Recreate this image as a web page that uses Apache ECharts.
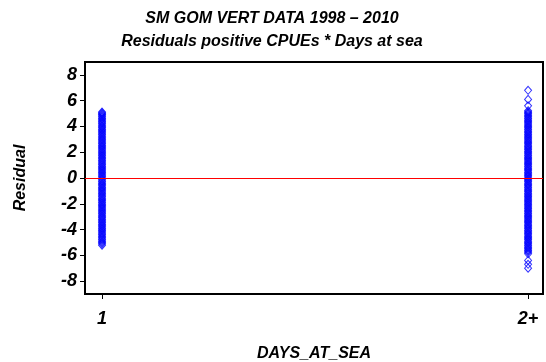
<!DOCTYPE html>
<html>
<head>
<meta charset="utf-8">
<script src="https://cdn.jsdelivr.net/npm/echarts@6/dist/echarts.min.js"></script>
<style>
html, body { margin: 0; padding: 0; background: #fff; }
#main { width: 546px; height: 362px; }
</style>
</head>
<body>
<div id="main"></div>
<script>
// categories on the x axis
var categories = ['1', '2+'];
var yTicks = [-8, -6, -4, -2, 0, 2, 4, 6, 8];

// residuals
var resid1 = [5.12, 5.05, 4.97, 4.9, 4.81, 4.73, 4.62, 4.55, 4.44, 4.36, 4.27, 4.18, 4.07, 3.98, 3.9, 3.79, 3.71, 3.6, 3.52, 3.41,
	3.33, 3.22, 3.13, 3.02, 2.94, 2.85, 2.74, 2.66, 2.55, 2.46, 2.37, 2.26, 2.18, 2.07, 1.98, 1.89, 1.78, 1.7, 1.59, 1.51,
	1.4, 1.31, 1.22, 1.11, 1.03, 0.92, 0.84, 0.73, 0.64, 0.55, 0.44, 0.36, 0.25, 0.16, 0.07, -0.04, -0.12, -0.23, -0.31, -0.42,
	-0.51, -0.6, -0.71, -0.79, -0.9, -0.99, -1.08, -1.19, -1.27, -1.38, -1.46, -1.57, -1.66, -1.75, -1.86, -1.94, -2.05, -2.13,
	-2.24, -2.33, -2.42, -2.53, -2.61, -2.72, -2.8, -2.91, -3.0, -3.09, -3.2, -3.28, -3.39, -3.47, -3.58, -3.67, -3.76, -3.87,
	-3.95, -4.06, -4.14, -4.25, -4.34, -4.43, -4.54, -4.62, -4.73, -4.81, -4.92, -5.01, -5.1, -5.21];
var resid2 = [6.8, 6.1, 5.6, 5.22, 5.13, 5.04, 4.96, 4.85, 4.77, 4.66, 4.58, 4.47, 4.39, 4.28, 4.19, 4.1, 3.99, 3.91, 3.8,
	3.72, 3.61, 3.53, 3.42, 3.34, 3.23, 3.14, 3.05, 2.94, 2.86, 2.75, 2.67, 2.56, 2.47, 2.38, 2.27, 2.19, 2.08, 1.99, 1.9,
	1.79, 1.71, 1.6, 1.52, 1.41, 1.32, 1.23, 1.12, 1.04, 0.93, 0.85, 0.74, 0.65, 0.56, 0.45, 0.37, 0.26, 0.17, 0.08, -0.03,
	-0.11, -0.22, -0.3, -0.41, -0.5, -0.59, -0.7, -0.78, -0.89, -0.98, -1.07, -1.18, -1.26, -1.37, -1.45, -1.56, -1.65, -1.74,
	-1.85, -1.93, -2.04, -2.12, -2.23, -2.32, -2.41, -2.52, -2.6, -2.71, -2.79, -2.9, -2.99, -3.08, -3.19, -3.27, -3.38, -3.46,
	-3.57, -3.66, -3.75, -3.86, -3.94, -4.05, -4.13, -4.24, -4.33, -4.42, -4.53, -4.61, -4.72, -4.8, -4.91, -5.0, -5.09, -5.2,
	-5.28, -5.39, -5.47, -5.58, -5.66, -5.77, -5.88, -6.4, -6.7, -7.0];

var font = 'Liberation Sans, Arial, Helvetica, sans-serif';

function toPoints(xv, arr) {
	var out = [];
	for (var i = 0; i < arr.length; i++) {
		out.push([xv, arr[i]]);
	}
	return out;
}

var chart = echarts.init(document.getElementById('main'), null, { renderer: 'canvas' });
chart.setOption({
	animation: false,
	backgroundColor: '#fff',
	title: {
		text: 'SM GOM VERT DATA 1998 \u2013 2010\nResiduals positive CPUEs * Days at sea',
		left: 267,
		textAlign: 'center',
		top: 2,
		textStyle: {
			fontFamily: font,
			fontSize: 16,
			fontWeight: 'bold',
			fontStyle: 'italic',
			color: '#000',
			lineHeight: 23
		}
	},
	grid: {
		left: 85, right: 3, top: 62, bottom: 68,
		outerBoundsMode: 'none',
		containLabel: false,
		show: true,
		borderColor: '#000',
		borderWidth: 2,
		backgroundColor: 'transparent'
	},
	xAxis: {
		type: 'value',
		min: 0.96,
		max: 2.035,
		name: 'DAYS_AT_SEA',
		nameLocation: 'middle',
		nameGap: 52,
		nameTextStyle: { fontFamily: font, fontSize: 16, fontWeight: 'bold', fontStyle: 'italic', color: '#000' },
		axisLine: { show: true, onZero: false, lineStyle: { color: '#000', width: 2 } },
		axisTick: { show: true, customValues: [1, 2], length: 5, lineStyle: { color: '#000' } },
		axisLabel: {
			customValues: [1, 2],
			margin: 16,
			fontFamily: font, fontSize: 18, fontWeight: 'bold', fontStyle: 'italic', color: '#000',
			formatter: function (v) { return categories[Math.round(v) - 1]; }
		},
		splitLine: { show: false }
	},
	yAxis: {
		type: 'value',
		min: -9,
		max: 9,
		name: 'Residual',
		nameLocation: 'middle',
		nameGap: 56,
		nameTextStyle: { fontFamily: font, fontSize: 16, fontWeight: 'bold', fontStyle: 'italic', color: '#000' },
		axisLine: { show: true, lineStyle: { color: '#000', width: 2 } },
		axisTick: { show: true, customValues: yTicks, length: 5, lineStyle: { color: '#000' } },
		axisLabel: {
			customValues: yTicks,
			margin: 8,
			fontFamily: font, fontSize: 18, fontWeight: 'bold', fontStyle: 'italic', color: '#000'
		},
		splitLine: { show: false }
	},
	series: [
		{
			type: 'scatter',
			symbol: 'diamond',
			symbolSize: [7, 8],
			z: 3,
			itemStyle: { color: 'transparent', borderColor: '#0000ff', borderWidth: 1 },
			data: toPoints(1, resid1).concat(toPoints(2, resid2))
		},
		{
			type: 'scatter',
			data: [],
			z: 2,
			markLine: {
				silent: true,
				symbol: 'none',
				label: { show: false },
				itemStyle: { color: '#ff0000' },
				lineStyle: { color: '#ff0000', width: 1, type: 'solid', opacity: 1 },
				emphasis: { disabled: true },
				data: [{ yAxis: 0 }]
			}
		}
	]
});
</script>
</body>
</html>
